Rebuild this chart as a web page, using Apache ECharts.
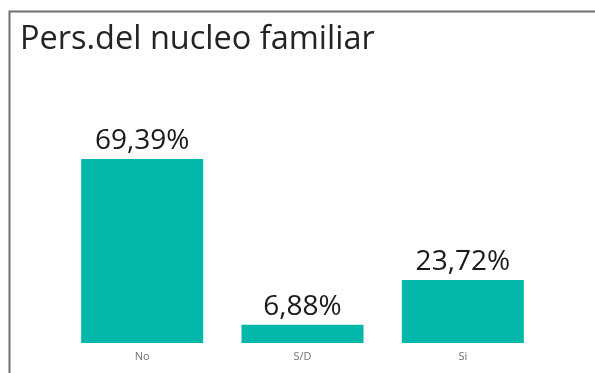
<!DOCTYPE html>
<html>
<head>
<meta charset="utf-8">
<script src="https://cdn.jsdelivr.net/npm/echarts@6/dist/echarts.min.js"></script>
<style>
  html, body { margin: 0; padding: 0; background: #fff; }
  #chart { width: 595px; height: 373px; }
</style>
</head>
<body>
<div id="chart"></div>
<script>
// Household members: share of respondents per answer
const titleText = 'Pers.del nucleo familiar';
const categories = ['No', 'S/D', 'Si'];
const values = [69.39, 6.88, 23.72];

const chart = echarts.init(document.getElementById('chart'), null, { renderer: 'canvas' });

const fmt = v => v.toFixed(2).replace('.', ',') + '%';

chart.setOption({
  animation: false,
  backgroundColor: '#ffffff',
  title: {
    text: titleText,
    left: 15,
    top: 18,
    textStyle: {
      fontFamily: 'Open Sans',
      fontWeight: 'normal',
      fontSize: 32.5,
      color: '#252423'
    }
  },
  graphic: [{
    type: 'polyline',
    shape: { points: [[9.5, 373], [9.5, 11.5], [595, 11.5]] },
    style: { stroke: '#707070', lineWidth: 2, fill: null },
    silent: true
  }],
  grid: { left: 62, right: 52, top: 159, bottom: 30 },
  xAxis: {
    type: 'category',
    data: categories,
    axisLine: { show: false },
    axisTick: { show: false },
    axisLabel: {
      margin: 8,
      fontFamily: 'Open Sans',
      fontSize: 11,
      color: '#707070'
    }
  },
  yAxis: {
    type: 'value',
    min: 0,
    max: 69.39,
    show: false,
    splitLine: { show: false }
  },
  series: [{
    type: 'bar',
    data: values,
    barWidth: 122,
    itemStyle: { color: '#01B8AA' },
    label: {
      show: true,
      position: 'top',
      distance: 4,
      formatter: p => fmt(p.value),
      fontFamily: 'Open Sans',
      fontSize: 28,
      color: '#1a1a1a'
    }
  }]
});
</script>
</body>
</html>
